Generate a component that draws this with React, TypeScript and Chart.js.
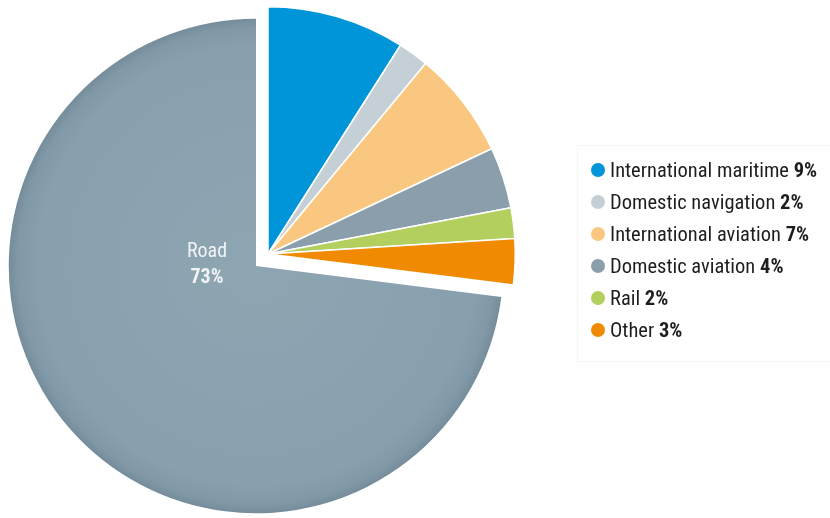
import React, { useEffect, useRef } from "react";
import { Chart, registerables } from "chart.js";

Chart.register(...registerables);

const categories = [
  "International maritime",
  "Domestic navigation",
  "International aviation",
  "Domestic aviation",
  "Rail",
  "Other",
  "Road",
];
const shares = [9, 2, 7, 4, 2, 3, 73];
const colors = ["#0095d9", "#c5d0d6", "#f9c77f", "#8a9fab", "#b3cf5e", "#f08a00", "#87a0ae"];
const explodedCount = 6;

const FONT = "'Liberation Sans Narrow', 'Roboto Condensed', 'Liberation Sans', sans-serif";

const explodePlugin = {
  id: "explodeGroup",
  afterDatasetsUpdate(chart: any) {
    const meta = chart.getDatasetMeta(0);
    for (let i = 0; i < explodedCount; i++) {
      const el = meta.data[i];
      if (el) {
        el.x += 12;
        el.y -= 12;
      }
    }
  },
  afterDatasetsDraw(chart: any) {
    const meta = chart.getDatasetMeta(0);
    const road = meta.data[6];
    if (!road) return;
    const ctx = chart.ctx;
    ctx.save();
    ctx.fillStyle = "rgba(255,255,255,0.88)";
    ctx.textAlign = "center";
    ctx.textBaseline = "middle";
    ctx.font = `20px ${FONT}`;
    ctx.fillText(categories[6], road.x - 49, road.y - 14);
    ctx.font = `bold 20px ${FONT}`;
    ctx.fillText(`${shares[6]}%`, road.x - 49, road.y + 12);
    ctx.restore();
  },
};

function roadColor(c: any) {
  if (c.dataIndex !== 6) return colors[c.dataIndex];
  const area = c.chart.chartArea;
  if (!area) return colors[6];
  const cx = (area.left + area.right) / 2;
  const cy = (area.top + area.bottom) / 2;
  const r = Math.min(area.right - area.left, area.bottom - area.top) / 2;
  const g = c.chart.ctx.createRadialGradient(cx, cy, 0, cx, cy, r);
  g.addColorStop(0, "#8ea5b2");
  g.addColorStop(0.88, "#88a0ad");
  g.addColorStop(0.96, "#8199a7");
  g.addColorStop(1, "#748b9a");
  return g;
}

function PieChart() {
  const ref = useRef<HTMLCanvasElement>(null);
  useEffect(() => {
    if (!ref.current) return;
    const chart = new Chart(ref.current, {
      type: "pie",
      data: {
        labels: categories,
        datasets: [
          {
            data: shares,
            backgroundColor: roadColor as any,
            borderColor: "#ffffff",
            borderWidth: [1.5, 1.5, 1.5, 1.5, 1.5, 1.5, 0],
          },
        ],
      },
      options: {
        responsive: false,
        animation: false,
        layout: { padding: { left: 8, top: 18, right: 326, bottom: 4 } },
        plugins: { legend: { display: false }, tooltip: { enabled: false } },
        events: [],
      },
      plugins: [explodePlugin],
    });
    return () => chart.destroy();
  }, []);
  return <canvas ref={ref} width={830} height={518} style={{ position: "absolute", left: 0, top: 0 }} />;
}

export default function App() {
  return (
    <div style={{ position: "absolute", left: 0, top: 0, width: 830, height: 518, background: "#fff", overflow: "hidden" }}>
      <PieChart />
      <div
        style={{
          position: "absolute",
          left: 577,
          top: 145,
          width: 260,
          height: 217,
          border: "1px solid #f6f6f6",
          boxSizing: "border-box",
          fontFamily: FONT,
          fontSize: 20.5,
          color: "#1e1e1e",
        }}
      >
        {categories.slice(0, explodedCount).map((name, i) => (
          <div
            key={name}
            style={{ position: "absolute", left: 13, top: 11 + i * 32, height: 26, display: "flex", alignItems: "center", whiteSpace: "nowrap" }}
          >
            <span style={{ display: "inline-block", width: 14, height: 14, borderRadius: 7, background: colors[i], marginRight: 5 }} />
            <span>
              {name} <b>{shares[i]}%</b>
            </span>
          </div>
        ))}
      </div>
    </div>
  );
}
